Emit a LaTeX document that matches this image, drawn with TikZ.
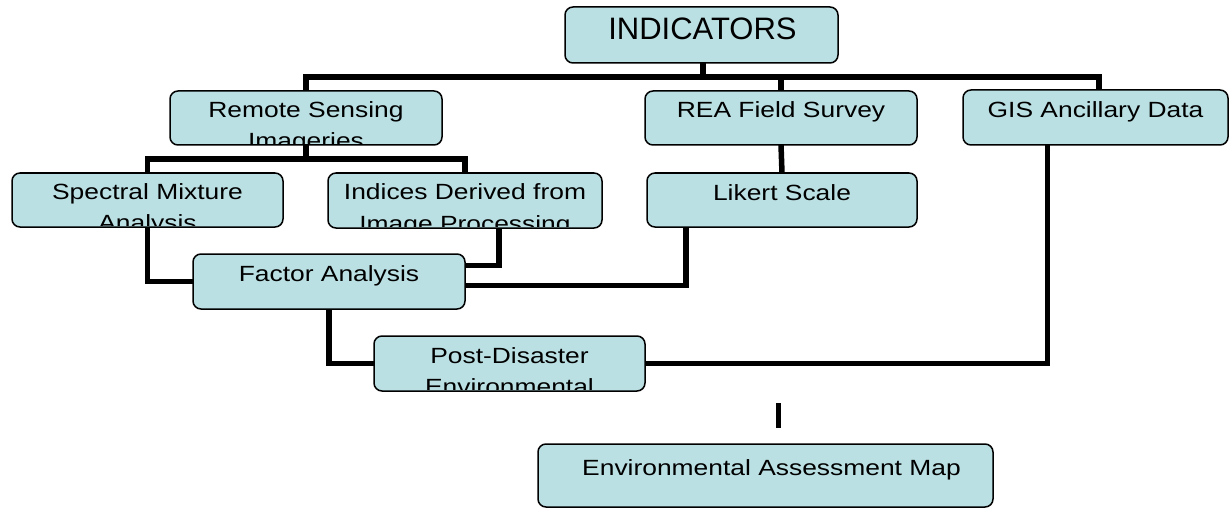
\documentclass[tikz,border=0pt]{standalone}
\usepackage{fontspec}
\setmainfont{Liberation Sans}
\newfontfamily\widefont[FakeStretch=1.2]{Liberation Sans}
\usetikzlibrary{calc}
\definecolor{boxfill}{RGB}{187,224,227}
\tikzset{
  bx/.style={draw=black, line width=1.5pt, fill=boxfill, rounded corners=8pt, inner sep=0pt, outer sep=0pt, anchor=north west},
  txt/.style={inner sep=0pt, outer sep=0pt, text=black, font=\widefont\fontsize{22}{29}\selectfont},
  bigtxt/.style={inner sep=0pt, outer sep=0pt, text=black, font=\fontsize{31}{36}\selectfont},
  conn/.style={draw=black, line width=5.5pt, line cap=butt},
}
\newcommand\tline[3]{\node[txt,anchor=base] at ($(#1.north)+(0,#2)$) {#3};}
\newcommand\clipbox[1]{\clip[rounded corners=7pt] ($(#1.north west)+(1.2,1.2)$) rectangle ($(#1.south east)+(-1.2,-1.2)$);}
\begin{document}
\begin{tikzpicture}[x=1pt,y=-1pt]
\path[fill=white,use as bounding box] (0,0) rectangle (1229,508);

% bus coordinates
\coordinate (bus1) at (0,77);
\coordinate (bus2) at (0,159);
\coordinate (busR) at (1099,77);
\coordinate (gisin) at (1047.5,0);

\coordinate (indout) at (703,63);
\coordinate (idxout) at (499,228);
\coordinate (lkout) at (686,227);
\coordinate (faA) at (465,265.5);
\coordinate (faB) at (465,285.5);
\coordinate (lone1) at (778,403);
\coordinate (lone2) at (778,428);

% boxes
\node[bx, minimum width=273pt, minimum height=56pt] (ind) at (565,7) {};
\node[bx, minimum width=272pt, minimum height=54pt] (rs) at (170,91) {};
\node[bx, minimum width=272pt, minimum height=54pt] (rea) at (645,91) {};
\node[bx, minimum width=265pt, minimum height=55pt] (gis) at (963,90) {};
\node[bx, minimum width=271pt, minimum height=54pt] (sma) at (12,173) {};
\node[bx, minimum width=274pt, minimum height=55pt] (idx) at (328,173) {};
\node[bx, minimum width=270pt, minimum height=54pt] (lk) at (647,173) {};
\node[bx, minimum width=272pt, minimum height=55pt] (fa) at (193,254) {};
\node[bx, minimum width=271pt, minimum height=55pt] (pd) at (374,336) {};
\node[bx, minimum width=455pt, minimum height=63pt] (em) at (538,444) {};

% connectors
\draw[conn] (indout) -- (indout |- bus1);
\draw[conn] (rs.north) |- (busR) -- (busR |- gis.north);
\draw[conn] (rea.north) -- (rea.north |- bus1);
\draw[conn] (rs.south) -- (rs.south |- bus2);
\draw[conn] (sma.north) |- (idx.north |- bus2) -- (idx.north);
\draw[conn] (sma.south) |- (fa.west);
\draw[conn] (idx.south -| idxout) |- (faA);
\draw[conn] (rea.south) -- (lk.north);
\draw[conn] (lk.south -| lkout) |- (faB);
\draw[conn] (fa.south) |- (pd.west);
\draw[conn, line width=5pt] (pd.east) -| (gisin |- gis.south);
\draw[conn, line width=5pt] (lone1) -- (lone2);

% texts
\node[bigtxt, anchor=base] at ($(ind.north)+(1,33)$) {INDICATORS};
\begin{scope}\clipbox{rs}\tline{rs}{27}{Remote Sensing}\tline{rs}{58}{Imageries}\end{scope}
\begin{scope}\clipbox{rea}\tline{rea}{27}{REA Field Survey}\end{scope}
\begin{scope}\clipbox{gis}\tline{gis}{28}{GIS Ancillary Data}\end{scope}
\begin{scope}\clipbox{sma}\tline{sma}{26}{Spectral Mixture}\tline{sma}{57}{Analysis}\end{scope}
\begin{scope}\clipbox{idx}\tline{idx}{27}{Indices Derived from}\tline{idx}{58}{Image Processing}\end{scope}
\begin{scope}\clipbox{lk}\tline{lk}{27.5}{Likert Scale}\end{scope}
\begin{scope}\clipbox{fa}\tline{fa}{27.5}{Factor Analysis}\end{scope}
\begin{scope}\clipbox{pd}\tline{pd}{27}{Post-Disaster}\tline{pd}{58}{Environmental}\end{scope}
\begin{scope}\clipbox{em}\node[txt,anchor=base] at ($(em.north)+(6,31)$) {Environmental Assessment Map};\end{scope}
\end{tikzpicture}
\end{document}
